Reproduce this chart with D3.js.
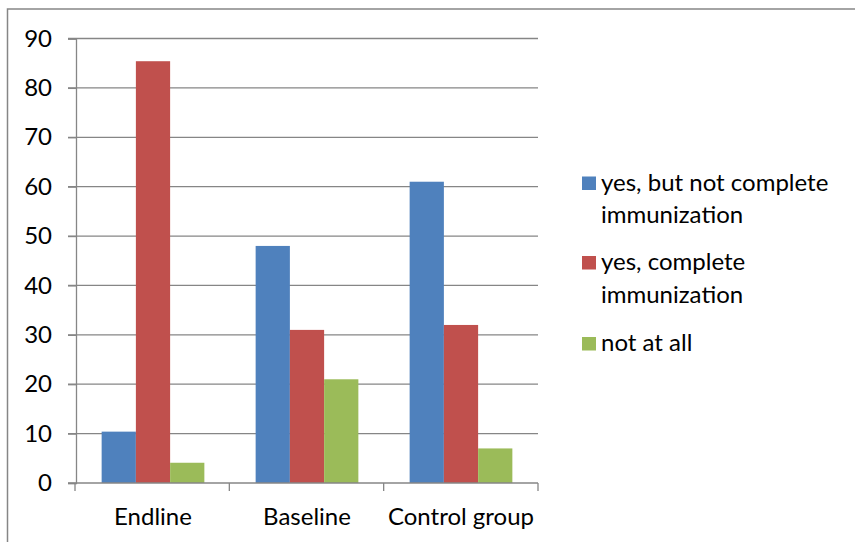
<!DOCTYPE html>
<html>
<head>
<meta charset="utf-8">
<script src="https://cdn.jsdelivr.net/npm/d3@7"></script>
<style>
  body { margin: 0; background: #fff; }
  text { font-family: Lato, "Open Sans", sans-serif; fill: #000; }
</style>
</head>
<body>
<svg id="chart"></svg>
<script>
const categories = ["Endline", "Baseline", "Control group"];
const seriesNames = ["yes, but not complete immunization", "yes, complete immunization", "not at all"];
const legendLines = [["yes, but not complete", "immunization"], ["yes, complete", "immunization"], ["not at all"]];
const notComplete = [10.4, 48, 61];
const complete = [85.4, 31, 32];
const notAtAll = [4.1, 21, 7];
const yTicks = [0, 10, 20, 30, 40, 50, 60, 70, 80, 90];
const colors = ["#4F81BD", "#C0504D", "#9BBB59"];

function drawChart() {
  const width = 855, height = 542;
  const plot = { left: 76, right: 538, top: 38.5, bottom: 483 };
  const fontSize = 24;

  const svg = d3.select("#chart").attr("width", width).attr("height", height);

  // outer frame (cut off at right and bottom like the source)
  svg.append("rect")
    .attr("x", 7.5).attr("y", 9).attr("width", width + 10).attr("height", height + 10)
    .attr("fill", "none").attr("stroke", "#868686").attr("stroke-width", 1.5);

  const series = [notComplete, complete, notAtAll];
  const data = categories.map((c, i) => ({ cat: c, vals: series.map(s => s[i]) }));

  const x0 = d3.scaleBand().domain(categories).range([plot.left, plot.right]).paddingInner(0.333).paddingOuter(0.1665);
  const x1 = d3.scaleBand().domain(d3.range(3)).range([0, x0.bandwidth()]);
  const y = d3.scaleLinear().domain([0, 90]).range([plot.bottom, plot.top]);

  // gridlines
  svg.append("g")
    .selectAll("line")
    .data(yTicks.filter(t => t > 0))
    .enter().append("line")
    .attr("x1", plot.left - 8).attr("x2", plot.right)
    .attr("y1", d => y(d)).attr("y2", d => y(d))
    .attr("stroke", "#868686").attr("stroke-width", 1.3);

  // y axis
  const yAxis = svg.append("g")
    .attr("transform", `translate(${plot.left},0)`)
    .call(d3.axisLeft(y).tickValues(yTicks).tickSize(8).tickPadding(16));
  yAxis.select(".domain").attr("stroke", "#868686").attr("stroke-width", 1.3);
  yAxis.selectAll(".tick line").attr("stroke", "#868686").attr("stroke-width", 1.3);
  yAxis.selectAll(".tick text").style("font-size", fontSize + "px").attr("fill", "#000");

  // bars
  svg.append("g")
    .selectAll("g")
    .data(data)
    .enter().append("g")
    .attr("transform", d => `translate(${x0(d.cat)},0)`)
    .selectAll("rect")
    .data(d => d.vals.map((v, i) => ({ v, i })))
    .enter().append("rect")
    .attr("x", d => x1(d.i))
    .attr("y", d => y(d.v))
    .attr("width", x1.bandwidth())
    .attr("height", d => y(0) - y(d.v))
    .attr("fill", d => colors[d.i]);

  // x axis
  const xScaleTicks = d3.scalePoint().domain(d3.range(4)).range([plot.left - 1, plot.right]);
  const xAxis = svg.append("g").attr("transform", `translate(0,${plot.bottom})`);
  xAxis.append("line")
    .attr("x1", plot.left - 8).attr("x2", plot.right)
    .attr("stroke", "#868686").attr("stroke-width", 1.5);
  xAxis.selectAll(".xt")
    .data(d3.range(4))
    .enter().append("line")
    .attr("x1", d => xScaleTicks(d)).attr("x2", d => xScaleTicks(d))
    .attr("y1", 0).attr("y2", 8)
    .attr("stroke", "#868686").attr("stroke-width", 1.3);
  xAxis.selectAll("text")
    .data(categories)
    .enter().append("text")
    .attr("x", d => x0(d) + x0.bandwidth() / 2)
    .attr("y", 42)
    .attr("text-anchor", "middle")
    .style("font-size", fontSize + "px")
    .text(d => d);

  // legend
  const legend = svg.append("g").attr("transform", "translate(582,0)");
  const itemY = [190.5, 270, 351];
  const lineH = 32.7;
  seriesNames.forEach((name, i) => {
    legend.append("rect")
      .attr("x", 0).attr("y", itemY[i] - 14)
      .attr("width", 14).attr("height", 13.5)
      .attr("fill", colors[i]);
    legendLines[i].forEach((ln, j) => {
      legend.append("text")
        .attr("x", 19).attr("y", itemY[i] + j * lineH)
        .style("font-size", fontSize + "px")
        .text(ln);
    });
  });
}

drawChart();
</script>
</body>
</html>
